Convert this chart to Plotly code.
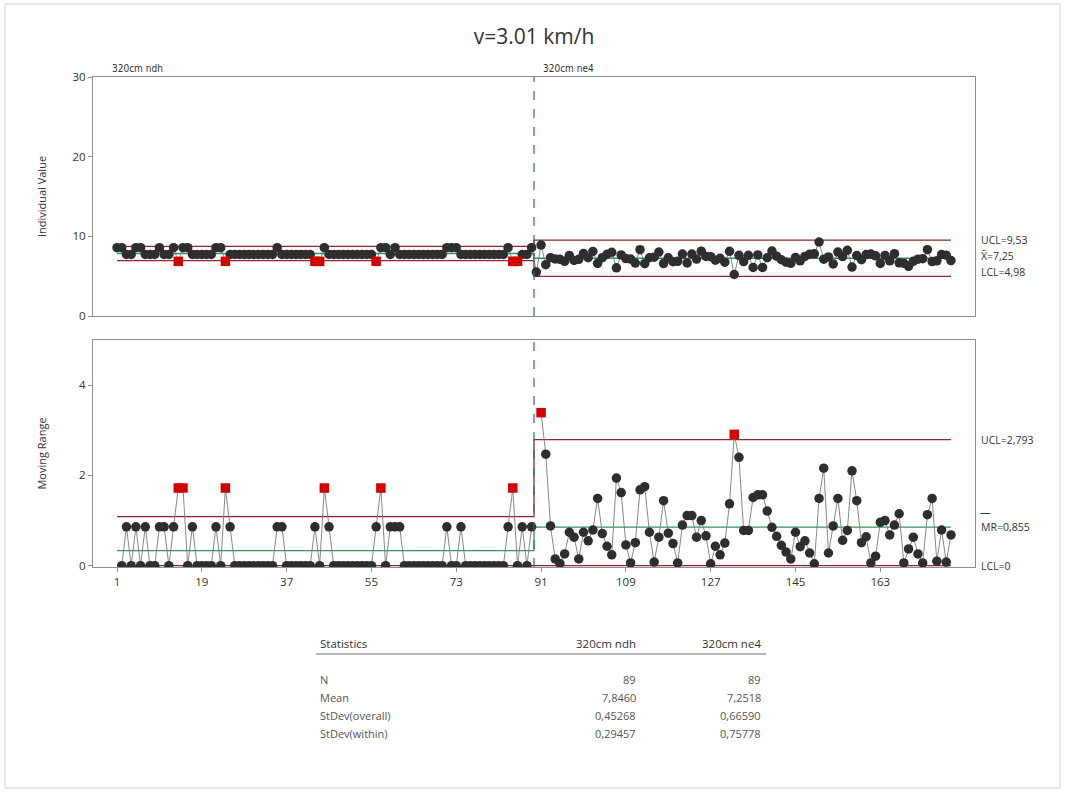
import plotly.graph_objects as go

# ---------------------------------------------------------------- data
TITLE = "v=3.01 km/h"
STAGE_NAMES = ["320cm ndh", "320cm ne4"]

# Individual observations, stage "320cm ndh" (observations 1-89)
ndh_values = [
    8.58, 8.58, 7.72, 7.72, 8.58, 8.58, 7.72, 7.72, 7.72, 8.58,
    7.72, 7.72, 8.58, 6.86, 8.58, 8.58, 7.72, 7.72, 7.72, 7.72,
    7.72, 8.58, 8.58, 6.86, 7.72, 7.72, 7.72, 7.72, 7.72, 7.72,
    7.72, 7.72, 7.72, 7.72, 8.58, 7.72, 7.72, 7.72, 7.72, 7.72,
    7.72, 7.72, 6.86, 6.86, 8.58, 7.72, 7.72, 7.72, 7.72, 7.72,
    7.72, 7.72, 7.72, 7.72, 7.72, 6.86, 8.58, 8.58, 7.72, 8.58,
    7.72, 7.72, 7.72, 7.72, 7.72, 7.72, 7.72, 7.72, 7.72, 7.72,
    8.58, 8.58, 8.58, 7.72, 7.72, 7.72, 7.72, 7.72, 7.72, 7.72,
    7.72, 7.72, 7.72, 8.58, 6.86, 6.86, 7.72, 7.72, 8.58,
]

# Individual observations, stage "320cm ne4" (observations 90-178)
ne4_values = [
    5.52, 8.91, 6.44, 7.32, 7.17, 7.12, 6.86, 7.60, 6.97, 7.12,
    7.86, 7.31, 8.10, 6.61, 7.32, 7.75, 7.99, 6.05, 7.67, 7.21,
    7.15, 6.64, 8.32, 6.57, 7.31, 7.39, 8.02, 6.58, 7.30, 6.81,
    6.87, 7.77, 6.66, 7.77, 7.14, 8.14, 7.48, 7.44, 7.01, 7.25,
    6.75, 8.12, 5.21, 7.61, 6.83, 7.61, 6.10, 7.67, 6.10, 7.31,
    8.16, 7.51, 7.06, 6.76, 6.61, 7.35, 6.93, 7.48, 7.76, 7.80,
    9.29, 7.13, 7.41, 6.53, 8.02, 7.46, 8.24, 6.14, 7.58, 7.07,
    7.71, 7.77, 7.56, 6.60, 7.60, 6.92, 7.82, 6.67, 6.61, 6.24,
    6.87, 7.13, 7.19, 8.32, 6.83, 6.93, 7.72, 7.64, 6.96,
]

# Control limits per stage
i_ucl = [8.7297, 9.53]
i_center = [7.846, 7.25]
i_lcl = [6.9623, 4.98]
mr_ucl = [1.0856, 2.793]
mr_center = [0.3323, 0.855]
mr_lcl = [0.0, 0.0]

x_ticks = [1, 19, 37, 55, 73, 91, 109, 127, 145, 163]
i_yticks = [0, 10, 20, 30]
mr_yticks = [0, 2, 4]

stats_rows = ["N", "Mean", "StDev(overall)", "StDev(within)"]
stats_ndh = ["89", "7,8460", "0,45268", "0,29457"]
stats_ne4 = ["89", "7,2518", "0,66590", "0,75778"]

# ---------------------------------------------------------------- styling
W, H = 1066, 794
M_L, M_R, M_T, M_B = 93, 91, 77, 227
PLOT_W = W - M_L - M_R
PLOT_H = H - M_T - M_B

FONT = "Open Sans"
NARROW = "DejaVu Sans Condensed, Liberation Sans Narrow, Open Sans"
TXT = "#333333"
PT_COLOR = "#2e2e2e"
RED_PT = "#d20000"
LIMIT_RED = "#8e2a2a"
CENTER_GREEN = "#3a9064"
CONNECT = "#7a7a7a"
STAGE_BLUE = "#2c63b0"


def px_x(px):
    return (px - M_L) / PLOT_W


def px_y(py):
    return (H - M_B - py) / PLOT_H


# ---------------------------------------------------------------- derived series
values = ndh_values + ne4_values
stage_of = [0] * len(ndh_values) + [1] * len(ne4_values)
obs = list(range(1, len(values) + 1))
n_total = len(values)
boundary = len(ndh_values) + 0.5
stage_start = [1, len(ndh_values) + 1]

mr = []
for i, v in enumerate(values):
    if i == 0 or stage_of[i] != stage_of[i - 1]:
        mr.append(None)
    else:
        mr.append(abs(v - values[i - 1]))

i_out = [values[i] > i_ucl[s] or values[i] < i_lcl[s] for i, s in enumerate(stage_of)]
mr_out = [m is not None and m > mr_ucl[s] for m, s in zip(mr, stage_of)]


def step(limits):
    return [1, boundary, boundary, n_total], [limits[0], limits[0], limits[1], limits[1]]


fig = go.Figure()

# ---- Individuals chart
for lims, col in ((i_ucl, LIMIT_RED), (i_lcl, LIMIT_RED), (i_center, CENTER_GREEN)):
    sx, sy = step(lims)
    fig.add_trace(go.Scatter(x=sx, y=sy, mode="lines", line=dict(color=col, width=1.3),
                             xaxis="x", yaxis="y", hoverinfo="skip"))
fig.add_trace(go.Scatter(x=obs, y=values, mode="lines", line=dict(color=CONNECT, width=0.9),
                         xaxis="x", yaxis="y", hoverinfo="skip"))
fig.add_trace(go.Scatter(
    x=[o for o, f in zip(obs, i_out) if not f], y=[v for v, f in zip(values, i_out) if not f],
    mode="markers", marker=dict(symbol="circle", size=9.5, color=PT_COLOR),
    xaxis="x", yaxis="y"))
fig.add_trace(go.Scatter(
    x=[o for o, f in zip(obs, i_out) if f], y=[v for v, f in zip(values, i_out) if f],
    mode="markers", marker=dict(symbol="square", size=9.5, color=RED_PT),
    xaxis="x", yaxis="y"))

# ---- Moving range chart
for lims, col in ((mr_ucl, LIMIT_RED), (mr_lcl, LIMIT_RED), (mr_center, CENTER_GREEN)):
    sx, sy = step(lims)
    fig.add_trace(go.Scatter(x=sx, y=sy, mode="lines", line=dict(color=col, width=1.3),
                             xaxis="x2", yaxis="y2", hoverinfo="skip"))
fig.add_trace(go.Scatter(x=obs, y=mr, mode="lines", line=dict(color=CONNECT, width=0.9),
                         connectgaps=False, xaxis="x2", yaxis="y2", hoverinfo="skip"))
fig.add_trace(go.Scatter(
    x=[o for o, m, f in zip(obs, mr, mr_out) if m is not None and not f],
    y=[m for m, f in zip(mr, mr_out) if m is not None and not f],
    mode="markers", marker=dict(symbol="circle", size=9.5, color=PT_COLOR),
    xaxis="x2", yaxis="y2"))
fig.add_trace(go.Scatter(
    x=[o for o, f in zip(obs, mr_out) if f], y=[m for m, f in zip(mr, mr_out) if f],
    mode="markers", marker=dict(symbol="square", size=9.5, color=RED_PT),
    xaxis="x2", yaxis="y2"))

# ---- stage separator
shapes = []
for yref in ("y domain", "y2 domain"):
    xr = "x" if yref.startswith("y ") else "x2"
    shapes.append(dict(type="line", xref=xr, yref=yref, x0=boundary, x1=boundary, y0=0, y1=1,
                       line=dict(color=STAGE_BLUE, width=1.2, dash="dash")))

# outer frame
shapes.append(dict(type="rect", xref="paper", yref="paper",
                   x0=px_x(5), x1=px_x(1060), y0=px_y(788), y1=px_y(4),
                   line=dict(color="#d4d4d4", width=1), fillcolor="rgba(0,0,0,0)", layer="below"))
# statistics table rule
shapes.append(dict(type="line", xref="paper", yref="paper",
                   x0=px_x(316), x1=px_x(766), y0=px_y(654), y1=px_y(654),
                   line=dict(color="#9a9a9a", width=1.5)))

ann = []
# stage labels
for name, start, dx in zip(STAGE_NAMES, stage_start, (-7, 5)):
    ann.append(dict(text=name, xref="x", yref="y domain", x=start, y=1, xanchor="left",
                    yanchor="bottom", xshift=dx, yshift=1, showarrow=False,
                    font=dict(family=NARROW, size=10, color=TXT)))

# right-hand limit labels (last stage)
lab_font = dict(family=FONT, size=10.5, color=TXT)
for txt, val, ys, yr in (
    (f"UCL={i_ucl[1]:.2f}".replace(".", ","), i_ucl[1], 0, "y"),
    (f"X\u0304={i_center[1]:.2f}".replace(".", ","), i_center[1], 2, "y"),
    (f"LCL={i_lcl[1]:.2f}".replace(".", ","), i_lcl[1], 4, "y"),
    (f"UCL={mr_ucl[1]:.3f}".replace(".", ","), mr_ucl[1], 0, "y2"),
    (f"MR={mr_center[1]:.3f}".replace(".", ","), mr_center[1], 0, "y2"),
    (f"LCL={mr_lcl[1]:.0f}", mr_lcl[1], 0, "y2"),
):
    ann.append(dict(text=txt, xref="paper", yref=yr, x=1, y=val, xanchor="left",
                    yanchor="middle", xshift=4, yshift=ys, showarrow=False, font=lab_font))
# bar over "MR"
ann.append(dict(text="\u2014", xref="paper", yref="y2", x=1, y=mr_center[1], xanchor="left",
                yanchor="middle", xshift=3, yshift=15, showarrow=False, font=lab_font))

# statistics table
head_font = dict(family=FONT, size=11.5, color=TXT)
cell_font = dict(family=FONT, size=11, color="#555555")
ann.append(dict(text="Statistics", xref="paper", yref="paper", x=px_x(318), y=px_y(643),
                xanchor="left", yanchor="middle", showarrow=False, font=head_font))
ann.append(dict(text=STAGE_NAMES[0], xref="paper", yref="paper", x=px_x(638), y=px_y(643),
                xanchor="right", yanchor="middle", showarrow=False, font=head_font))
ann.append(dict(text=STAGE_NAMES[1], xref="paper", yref="paper", x=px_x(763), y=px_y(643),
                xanchor="right", yanchor="middle", showarrow=False, font=head_font))
for k, (row, a, b) in enumerate(zip(stats_rows, stats_ndh, stats_ne4)):
    yy = px_y(679 + 18.3 * k)
    ann.append(dict(text=row, xref="paper", yref="paper", x=px_x(318), y=yy,
                    xanchor="left", yanchor="middle", showarrow=False, font=cell_font))
    ann.append(dict(text=a, xref="paper", yref="paper", x=px_x(638), y=yy,
                    xanchor="right", yanchor="middle", showarrow=False, font=cell_font))
    ann.append(dict(text=b, xref="paper", yref="paper", x=px_x(763), y=yy,
                    xanchor="right", yanchor="middle", showarrow=False, font=cell_font))

x_range = [-4.1, 183.1]
axis_common = dict(showline=True, mirror=True, linecolor="#8f8f8f", linewidth=1,
                   showgrid=False, zeroline=False, tickfont=dict(family=FONT, size=11.5, color=TXT),
                   ticks="outside", ticklen=4, tickcolor="#8f8f8f")
x_top = {k: v for k, v in axis_common.items() if k != "ticks"}

fig.update_layout(
    width=W, height=H,
    margin=dict(l=M_L, r=M_R, t=M_T, b=M_B),
    paper_bgcolor="white", plot_bgcolor="white",
    showlegend=False,
    title=dict(text=TITLE, x=0.5, xref="paper", xanchor="center", y=1 - 37 / H, yanchor="middle",
               font=dict(family=FONT, size=21, color=TXT)),
    xaxis=dict(domain=[0, 1], anchor="y", range=x_range, showticklabels=False, ticks="", **x_top),
    yaxis=dict(domain=[px_y(316), 1], anchor="x", range=[0, 30], tickvals=i_yticks,
               title=dict(text="Individual Value", standoff=23, font=dict(family=FONT, size=11, color=TXT)),
               **axis_common),
    xaxis2=dict(domain=[0, 1], anchor="y2", range=x_range, tickvals=x_ticks, matches="x", **axis_common),
    yaxis2=dict(domain=[0, px_y(340)], anchor="x2", range=[-0.03, 5.0], tickvals=mr_yticks,
                title=dict(text="Moving Range", standoff=30, font=dict(family=FONT, size=11, color=TXT)),
                **axis_common),
    shapes=shapes,
    annotations=ann,
)

fig.write_html("out.html")
